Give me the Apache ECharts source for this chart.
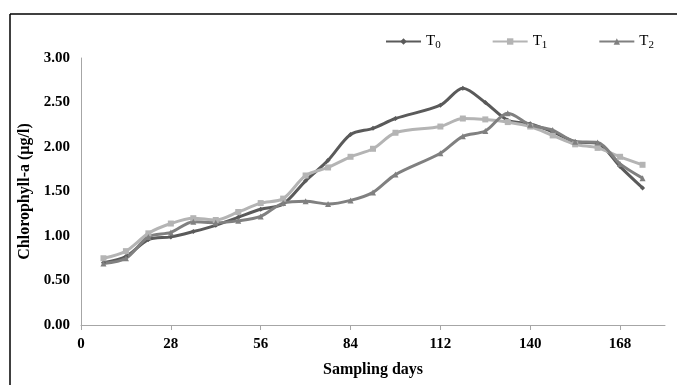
<!DOCTYPE html>
<html>
<head>
<meta charset="utf-8">
<script src="https://cdn.jsdelivr.net/npm/echarts@6/dist/echarts.min.js"></script>
<style>
  html, body { margin: 0; padding: 0; background: #fff; }
  #chart { width: 677px; height: 385px; }
</style>
</head>
<body>
<div id="chart"></div>
<script>
// sampling days (no sample on day 105)
const days = [7, 14, 21, 28, 35, 42, 49, 56, 63, 70, 77, 84, 91, 98, 112, 119, 126, 133, 140, 147, 154, 161, 168, 175];
const t0 = [0.70, 0.77, 0.96, 0.99, 1.05, 1.12, 1.21, 1.30, 1.36, 1.62, 1.85, 2.14, 2.21, 2.32, 2.47, 2.66, 2.50, 2.30, 2.26, 2.17, 2.06, 2.04, 1.78, 1.54];
const t1 = [0.75, 0.83, 1.03, 1.14, 1.20, 1.18, 1.27, 1.37, 1.42, 1.68, 1.77, 1.89, 1.98, 2.16, 2.23, 2.32, 2.31, 2.28, 2.23, 2.13, 2.03, 1.99, 1.89, 1.80];
const t2 = [0.69, 0.75, 0.99, 1.04, 1.16, 1.15, 1.17, 1.22, 1.37, 1.39, 1.36, 1.40, 1.49, 1.69, 1.93, 2.12, 2.18, 2.38, 2.25, 2.19, 2.06, 2.05, 1.81, 1.65];
const xTicks = [0, 28, 56, 84, 112, 140, 168];

const serif = 'Liberation Serif';

const makeSeries = (name, values, color, symbol, size) => ({
  name,
  type: 'line',
  data: days.map((d, i) => [d, values[i]]),
  smooth: 0.3,
  symbol,
  symbolSize: size,
  lineStyle: { color, width: 3 },
  itemStyle: { color },
});

const chart = echarts.init(document.getElementById('chart'));
chart.setOption({
  backgroundColor: '#fff',
  animation: false,
  grid: { left: 81, right: 12, top: 58, bottom: 60 },
  legend: {
    left: 380,
    top: 29,
    itemWidth: 35,
    itemHeight: 8,
    itemGap: 51,
    formatter: (name) => `{t|T}{s|${name.slice(1)}}`,
    textStyle: {
      fontFamily: serif,
      color: '#000',
      rich: {
        t: { fontFamily: serif, fontSize: 15, color: '#000' },
        s: { fontFamily: serif, fontSize: 11, color: '#000', padding: [7, 0, 0, 0] },
      },
    },
    data: ['T0', 'T1', 'T2'],
  },
  xAxis: {
    type: 'value',
    min: 0,
    max: 182,
    interval: 28,
    name: 'Sampling days',
    nameLocation: 'middle',
    nameGap: 37,
    nameTextStyle: { fontFamily: serif, fontWeight: 'bold', fontSize: 16, color: '#000' },
    axisLine: { show: true, lineStyle: { color: '#a6a6a6', width: 1 } },
    axisTick: { show: true, length: 5, lineStyle: { color: '#a6a6a6' }, customValues: xTicks },
    axisLabel: {
      customValues: xTicks,
      margin: 12,
      fontFamily: serif,
      fontWeight: 'bold',
      fontSize: 15,
      color: '#000',
    },
    splitLine: { show: false },
  },
  yAxis: {
    type: 'value',
    min: 0,
    max: 3,
    interval: 0.5,
    name: 'Chlorophyll-a (µg/l)',
    nameLocation: 'middle',
    nameGap: 41,
    nameTextStyle: { fontFamily: serif, fontWeight: 'bold', fontSize: 16, color: '#000' },
    axisLine: { show: true, lineStyle: { color: '#a6a6a6', width: 1 } },
    axisTick: { show: false },
    axisLabel: {
      margin: 11,
      formatter: (v) => v.toFixed(2),
      fontFamily: serif,
      fontWeight: 'bold',
      fontSize: 15,
      color: '#000',
    },
    splitLine: { show: false },
  },
  graphic: [
    { type: 'line', shape: { x1: 10, y1: 14, x2: 677, y2: 14 }, style: { stroke: '#000', lineWidth: 1.5 } },
    { type: 'line', shape: { x1: 10, y1: 14, x2: 10, y2: 385 }, style: { stroke: '#000', lineWidth: 1.5 } },
  ],
  series: [
    makeSeries('T0', t0, '#5a5a5a', 'diamond', 5),
    makeSeries('T1', t1, '#b4b4b4', 'rect', 6),
    makeSeries('T2', t2, '#808080', 'triangle', 6),
  ],
});
</script>
</body>
</html>
